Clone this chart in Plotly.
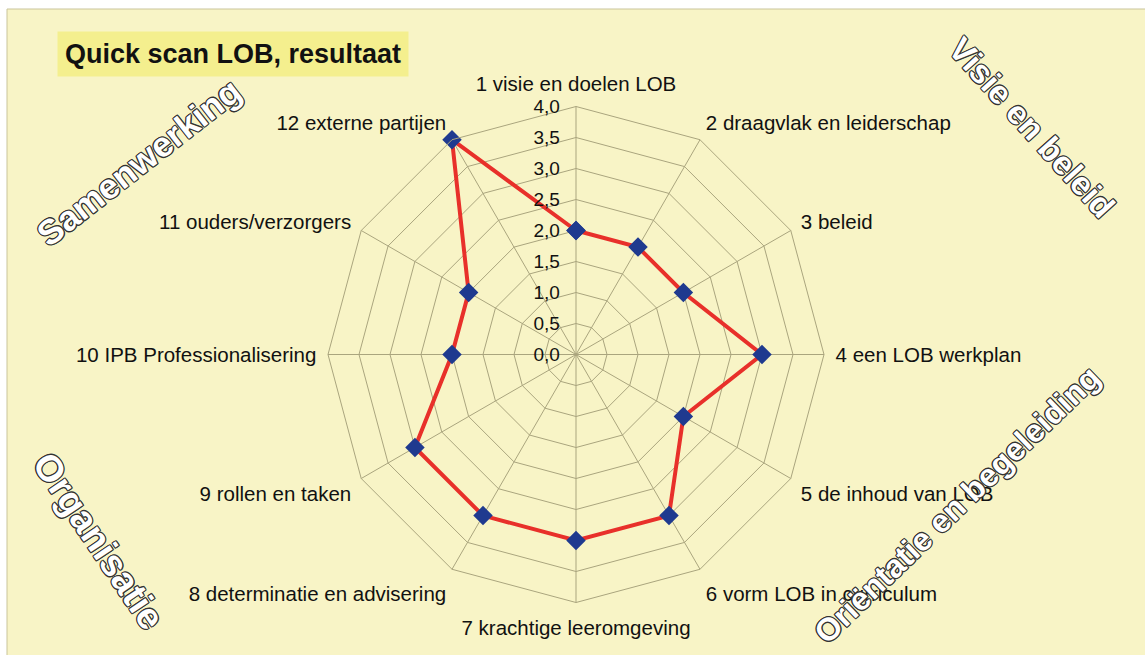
import plotly.graph_objects as go

categories = [
    "1 visie en doelen LOB",
    "2 draagvlak en leiderschap",
    "3 beleid",
    "4 een LOB werkplan",
    "5 de inhoud van LOB",
    "6 vorm LOB in curriculum",
    "7 krachtige leeromgeving",
    "8 determinatie en advisering",
    "9 rollen en taken",
    "10 IPB Professionalisering",
    "11 ouders/verzorgers",
    "12 externe partijen",
]
scores = [2.0, 2.0, 2.0, 3.0, 2.0, 3.0, 3.0, 3.0, 3.0, 2.0, 2.0, 4.0]
radial_ticks = [0, 0.5, 1, 1.5, 2, 2.5, 3, 3.5, 4]
title_text = "Quick scan LOB, resultaat"
group_labels = ["Samenwerking", "Visie en beleid", "Oriëntatie en begeleiding", "Organisatie"]

W, H = 1145, 655
BG = "#f8f4c6"
GRID = "#aaa57e"

fig = go.Figure()
fig.add_trace(go.Scatterpolar(
    r=scores + [scores[0]],
    theta=categories + [categories[0]],
    mode="lines+markers",
    line=dict(color="#e8302a", width=4),
    marker=dict(symbol="diamond", size=15, color="#1f3a8f"),
    showlegend=False,
))

cx, cy, R = 576, 354.5, 248
fig.update_layout(
    width=W, height=H,
    margin=dict(l=0, r=0, t=0, b=0),
    paper_bgcolor="white",
    separators=",.",
    font=dict(family="Liberation Sans, Arial, sans-serif", color="#111111"),
    polar=dict(
        domain=dict(x=[(cx - R) / W, (cx + R) / W], y=[(H - cy - R) / H, (H - cy + R) / H]),
        bgcolor="rgba(0,0,0,0)",
        gridshape="linear",
        angularaxis=dict(
            type="category",
            direction="clockwise",
            rotation=90,
            showline=True, linecolor=GRID, linewidth=1,
            gridcolor=GRID, gridwidth=1,
            ticks="outside", ticklen=7, tickcolor="rgba(0,0,0,0)",
            tickfont=dict(size=20.5, color="#111111"),
        ),
        radialaxis=dict(
            range=[0, 4],
            angle=90,
            tickangle=90,
            side="counterclockwise",
            tickvals=radial_ticks,
            tickformat=".1f",
            showline=False,
            gridcolor=GRID, gridwidth=1,
            ticks="outside", ticklen=9, tickcolor="rgba(0,0,0,0)",
            tickfont=dict(size=19, color="#111111"),
        ),
    ),
)

# background panel with thin border
fig.add_shape(type="rect", xref="paper", yref="paper",
              x0=7 / W, x1=1.02, y0=-0.02, y1=1 - 9 / H,
              fillcolor=BG, line=dict(color="#c9c49a", width=1), layer="below")

# title box
fig.add_annotation(xref="paper", yref="paper", x=232.5 / W, y=1 - 53.5 / H,
                   text="<b>" + title_text + "</b>", showarrow=False,
                   font=dict(size=27, color="#111111", family="Liberation Sans, Arial, sans-serif"),
                   bgcolor="#f4ef8e", borderpad=7, xanchor="center", yanchor="middle")

shadow = ("1px 1px 0 #333, -1px -1px 0 #333, 1px -1px 0 #333, -1px 1px 0 #333, "
          "0 1px 0 #333, 0 -1px 0 #333, 1px 0 0 #333, -1px 0 0 #333")
group_pos = [(138, 162, -38, 35), (1032, 127, 48, 33), (957, 505, -44, 32), (99, 541, 56, 37)]
for lab, (px, py, ang, sz) in zip(group_labels, group_pos):
    fig.add_annotation(xref="paper", yref="paper", x=px / W, y=1 - py / H,
                       text="<b>" + lab + "</b>", showarrow=False, textangle=ang,
                       font=dict(size=sz, color="white", family="Liberation Sans, Arial, sans-serif",
                                 shadow=shadow),
                       xanchor="center", yanchor="middle")

fig.write_html("out.html", config={"displayModeBar": False},
               post_script="document.body.style.margin='0';")
